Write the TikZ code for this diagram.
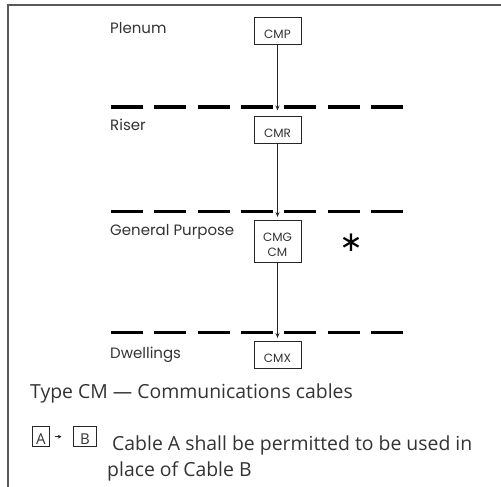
\documentclass[tikz,border=0pt]{standalone}
\usepackage{fontspec}
\setmainfont{Poppins}
\newfontfamily\legendfont{Open Sans}
\newfontfamily\symfont{DejaVu Sans}
\usetikzlibrary{arrows.meta,positioning}

\begin{document}
\begin{tikzpicture}[
    x=1pt, y=-1pt,
    box/.style={draw=black!85, line width=0.9pt, minimum width=47pt, minimum height=27pt, inner sep=0pt, font=\fontsize{12}{15}\selectfont, text=black!80, text height=16pt, text depth=0pt},
    layer/.style={anchor=base west, inner sep=0pt, font=\fontsize{15}{18}\selectfont, text=black!80},
    floor/.style={line width=3pt, dash pattern=on 32pt off 11.33pt},
    arr/.style={-{Stealth[length=5pt, width=4pt]}, line width=0.8pt, black!85},
    key/.style={draw=black!85, line width=0.8pt, minimum height=20pt, inner sep=0pt, font=\legendfont\fontsize{15}{15}\selectfont, text=black!80, text height=15.5pt, text depth=0pt},
  ]
  \useasboundingbox (0,0) rectangle (501,487);

  % Frame
  \draw[black!65, line width=1.2pt] (8,487) -- (8,5) -- (501,5);

  % Floors
  \foreach \y in {107,211,332}
    \draw[floor] (111,\y) -- (403,\y);

  % Spaces
  \node[layer] (plenum) at (110,33.3) {Plenum};
  \node[layer] (riser) at (110,130.7) {Riser};
  \node[layer] (general) at (110,235.3) {General Purpose};
  \node[layer] (dwell) at (110,358) {Dwellings};

  % Cables
  \node[box] (cmp) at (277.5,30.5) {CMP};
  \node[box] (cmr) at (277.5,129.5) {CMR};
  \node[box, minimum height=42pt, align=center, text height={}, text depth={}] (cmg) at (277.5,241) {\rule{0pt}{15.5pt}CMG\\CM};
  \node[box] (cmx) at (277.5,354.5) {CMX};
  \node[font=\symfont\fontsize{28}{28}\selectfont, inner sep=0pt] (star) at (351,243) {∗};

  % Arrows
  \coordinate (tip1) at (277.5,110.5);
  \coordinate (tip2) at (277.5,217);
  \coordinate (tip3) at (277.5,338);
  \draw[arr] (cmp) -- (tip1);
  \draw[arr] (cmr) -- (tip2);
  \draw[arr] (cmg) -- (tip3);

  % Caption
  \node[anchor=base west, inner sep=0pt, font=\legendfont\fontsize{19.4}{23}\selectfont, text=black!80] (title) at (30,398) {Type CM — Communications cables};

  % Key
  \node[key, minimum width=17pt] (ka) at (40.8,436.7) {A};
  \node[key, minimum width=23.5pt] (kb) at (85,436.7) {B};
  \draw[-{Stealth[length=3.5pt, width=4pt]}, line width=0.7pt, black!85, shorten <=5.5pt, shorten >=11.5pt] (ka) -- (kb);
  \node[anchor=base west, align=left, inner sep=0pt, font=\legendfont\fontsize{19.4}{26.5}\selectfont, text=black!80] (note) at (107,476.7) {\hspace*{5pt}Cable A shall be permitted to be used in\\place of Cable B};
\end{tikzpicture}
\end{document}
